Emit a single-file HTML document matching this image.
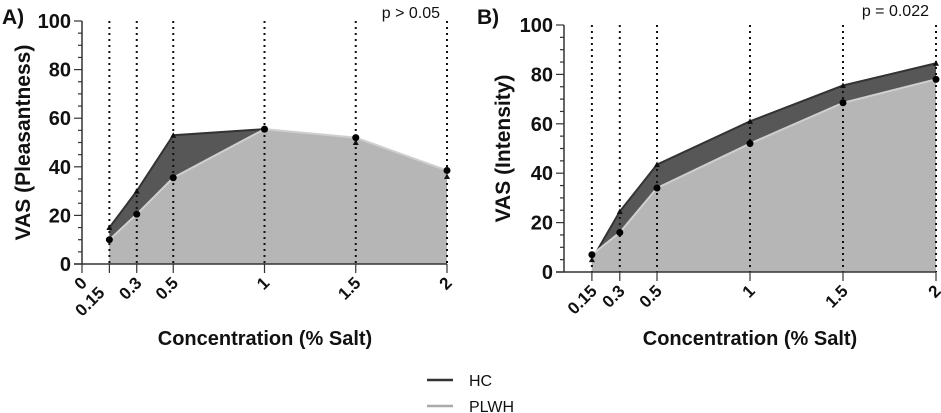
<!DOCTYPE html>
<html><head><meta charset="utf-8">
<style>
html,body{margin:0;padding:0;background:#fff;}
svg{display:block;font-family:"Liberation Sans",Arial,sans-serif;}
</style></head>
<body>
<svg id="chart" width="941" height="413" viewBox="0 0 941 413"></svg>
<script>
const NS="http://www.w3.org/2000/svg";
const xCatsA=[0.15,0.3,0.5,1,1.5,2];
const hcA=[15,30,53,55.5,50,36];
const plwhA=[10,20.5,35.5,55.5,52,38.5];
const xCatsB=[0.15,0.3,0.5,1,1.5,2];
const hcB=[5,24.5,43.5,61,75.5,84.5];
const plwhB=[7,16,34,52,68.5,78];
const yTicks=[0,20,40,60,80,100];
const xTickLabelsA=["0","0.15","0.3","0.5","1","1.5","2"];
const xTickValsA=[0,0.15,0.3,0.5,1,1.5,2];
const xTickLabelsB=["0.15","0.3","0.5","1","1.5","2"];
const xTickValsB=[0.15,0.3,0.5,1,1.5,2];

const svg=document.getElementById('chart');
function mk(tag,attrs,parent,text){const e=document.createElementNS(NS,tag);for(const k in attrs)e.setAttribute(k,attrs[k]);if(text!==undefined)e.textContent=text;(parent||svg).appendChild(e);return e;}

function panel(o){
  const g=mk('g',{});
  
  
  const xs=v=>o.x0+v*o.xk;
  const ys=v=>o.y0-v*o.yk;
  const yTop=ys(100);
  const areaPts=(vals)=>{let p=o.cats.map((c,i)=>xs(c)+','+ys(vals[i])).join(' ');return xs(o.cats[0])+','+ys(0)+' '+p+' '+xs(o.cats[o.cats.length-1])+','+ys(0);};
  const hcArea=mk('polygon',{points:areaPts(o.hc),fill:'#575757'},g);
  
  
  const hcLine=mk('polyline',{points:o.cats.map((c,i)=>xs(c)+','+ys(o.hc[i])).join(' '),fill:'none',stroke:'#333',"stroke-width":2},g);
  
  
  const plArea=mk('polygon',{points:areaPts(o.pl),fill:'#b6b6b6'},g);
  
  
  const plLine=mk('polyline',{points:o.cats.map((c,i)=>xs(c)+','+ys(o.pl[i])).join(' '),fill:'none',stroke:'#cfcfcf',"stroke-width":2},g);
  
  
  o.cats.forEach(c=>{
    const l=mk('line',{x1:xs(c),x2:xs(c),y1:yTop,y2:ys(0),stroke:'#111',"stroke-width":2,"stroke-dasharray":"2 4"},g);
    
    
  });
  o.cats.forEach((c,i)=>{
    const t=mk('path',{d:`M${xs(c)-3},${ys(o.hc[i])+2.5} L${xs(c)+3},${ys(o.hc[i])+2.5} L${xs(c)},${ys(o.hc[i])-3} Z`,fill:'#111'},g);
    
    
    const p=mk('circle',{cx:xs(c),cy:ys(o.pl[i]),r:3.5,fill:'#000'},g);
    
    
  });
  const yax=mk('line',{x1:o.x0,x2:o.x0,y1:yTop,y2:ys(0),stroke:'#333',"stroke-width":1.5},g);
  
  
  const xax=mk('line',{x1:o.x0-8,x2:xs(2),y1:ys(0),y2:ys(0),stroke:'#333',"stroke-width":1.5},g);
  
  
  for(let v=0;v<=100;v+=5){
    const major=v%20===0;
    mk('line',{x1:o.x0-(major?8:4),x2:o.x0,y1:ys(v),y2:ys(v),stroke:'#333',"stroke-width":1.2},g);
  }
  yTicks.forEach(v=>{
    const t=mk('text',{x:o.x0-11,y:ys(v)+7,"text-anchor":"end","font-size":20,"font-weight":"bold",fill:'#111'},g,String(v));
    
    
  });
  o.tv.forEach((v,i)=>{
    mk('line',{x1:xs(v),x2:xs(v),y1:ys(0),y2:ys(0)+9,stroke:'#333',"stroke-width":1.2},g);
    const off=(o.tl[i]==='0.15'&&o.name==='panel-a')?14:0;
    const tx=xs(v)+6-off*0.7, ty=ys(0)+20+off*0.7;
    const t=mk('text',{x:tx,y:ty,"text-anchor":"end","font-size":17,"font-weight":"bold",fill:'#111',transform:`rotate(-45 ${tx} ${ty})`},g,o.tl[i]);
    
    
  });
  const xt=mk('text',{x:o.xtX,y:o.xtY,"text-anchor":"middle","font-size":20,"font-weight":"bold",fill:'#111'},g,'Concentration (% Salt)');
  
  
  const yt=mk('text',{x:0,y:0,"text-anchor":"middle","font-size":21,"font-weight":"bold",fill:'#111',transform:`translate(${o.ytX},${(yTop+ys(0))/2}) rotate(-90)`},g,o.ytitle);
  
  
  const pl=mk('text',{x:o.pX,y:o.pY,"text-anchor":"end","font-size":16,fill:'#111'},g,o.p);
  
  
  const lab=mk('text',{x:o.labX,y:o.labY,"font-size":21,"font-weight":"bold",fill:'#111'},g,o.label);
  
  
}
panel({name:'panel-a',x0:82,xk:182.5,y0:264,yk:2.43,cats:xCatsA,hc:hcA,pl:plwhA,tv:xTickValsA,tl:xTickLabelsA,
  xtX:265,xtY:345,ytX:30,ytitle:'VAS (Pleasantness)',p:'p > 0.05',pX:440,pY:18,label:'A)',labX:2,labY:24});
panel({name:'panel-b',x0:564,xk:186,y0:272,yk:2.47,cats:xCatsB,hc:hcB,pl:plwhB,tv:xTickValsB,tl:xTickLabelsB,
  xtX:750,xtY:345,ytX:510,ytitle:'VAS (Intensity)',p:'p = 0.022',pX:929,pY:16,label:'B)',labX:477,labY:24});

const lg=mk('g',{});


const e1=mk('g',{},lg);


mk('line',{x1:427,x2:453,y1:380,y2:380,stroke:'#333',"stroke-width":2.5},e1);
mk('text',{x:469,y:386,"font-size":16,fill:'#111'},e1,'HC');
const e2=mk('g',{},lg);


mk('line',{x1:427,x2:453,y1:406,y2:406,stroke:'#aaa',"stroke-width":2.5},e2);
mk('text',{x:469,y:412,"font-size":16,fill:'#111'},e2,'PLWH');
</script>
</body></html>
